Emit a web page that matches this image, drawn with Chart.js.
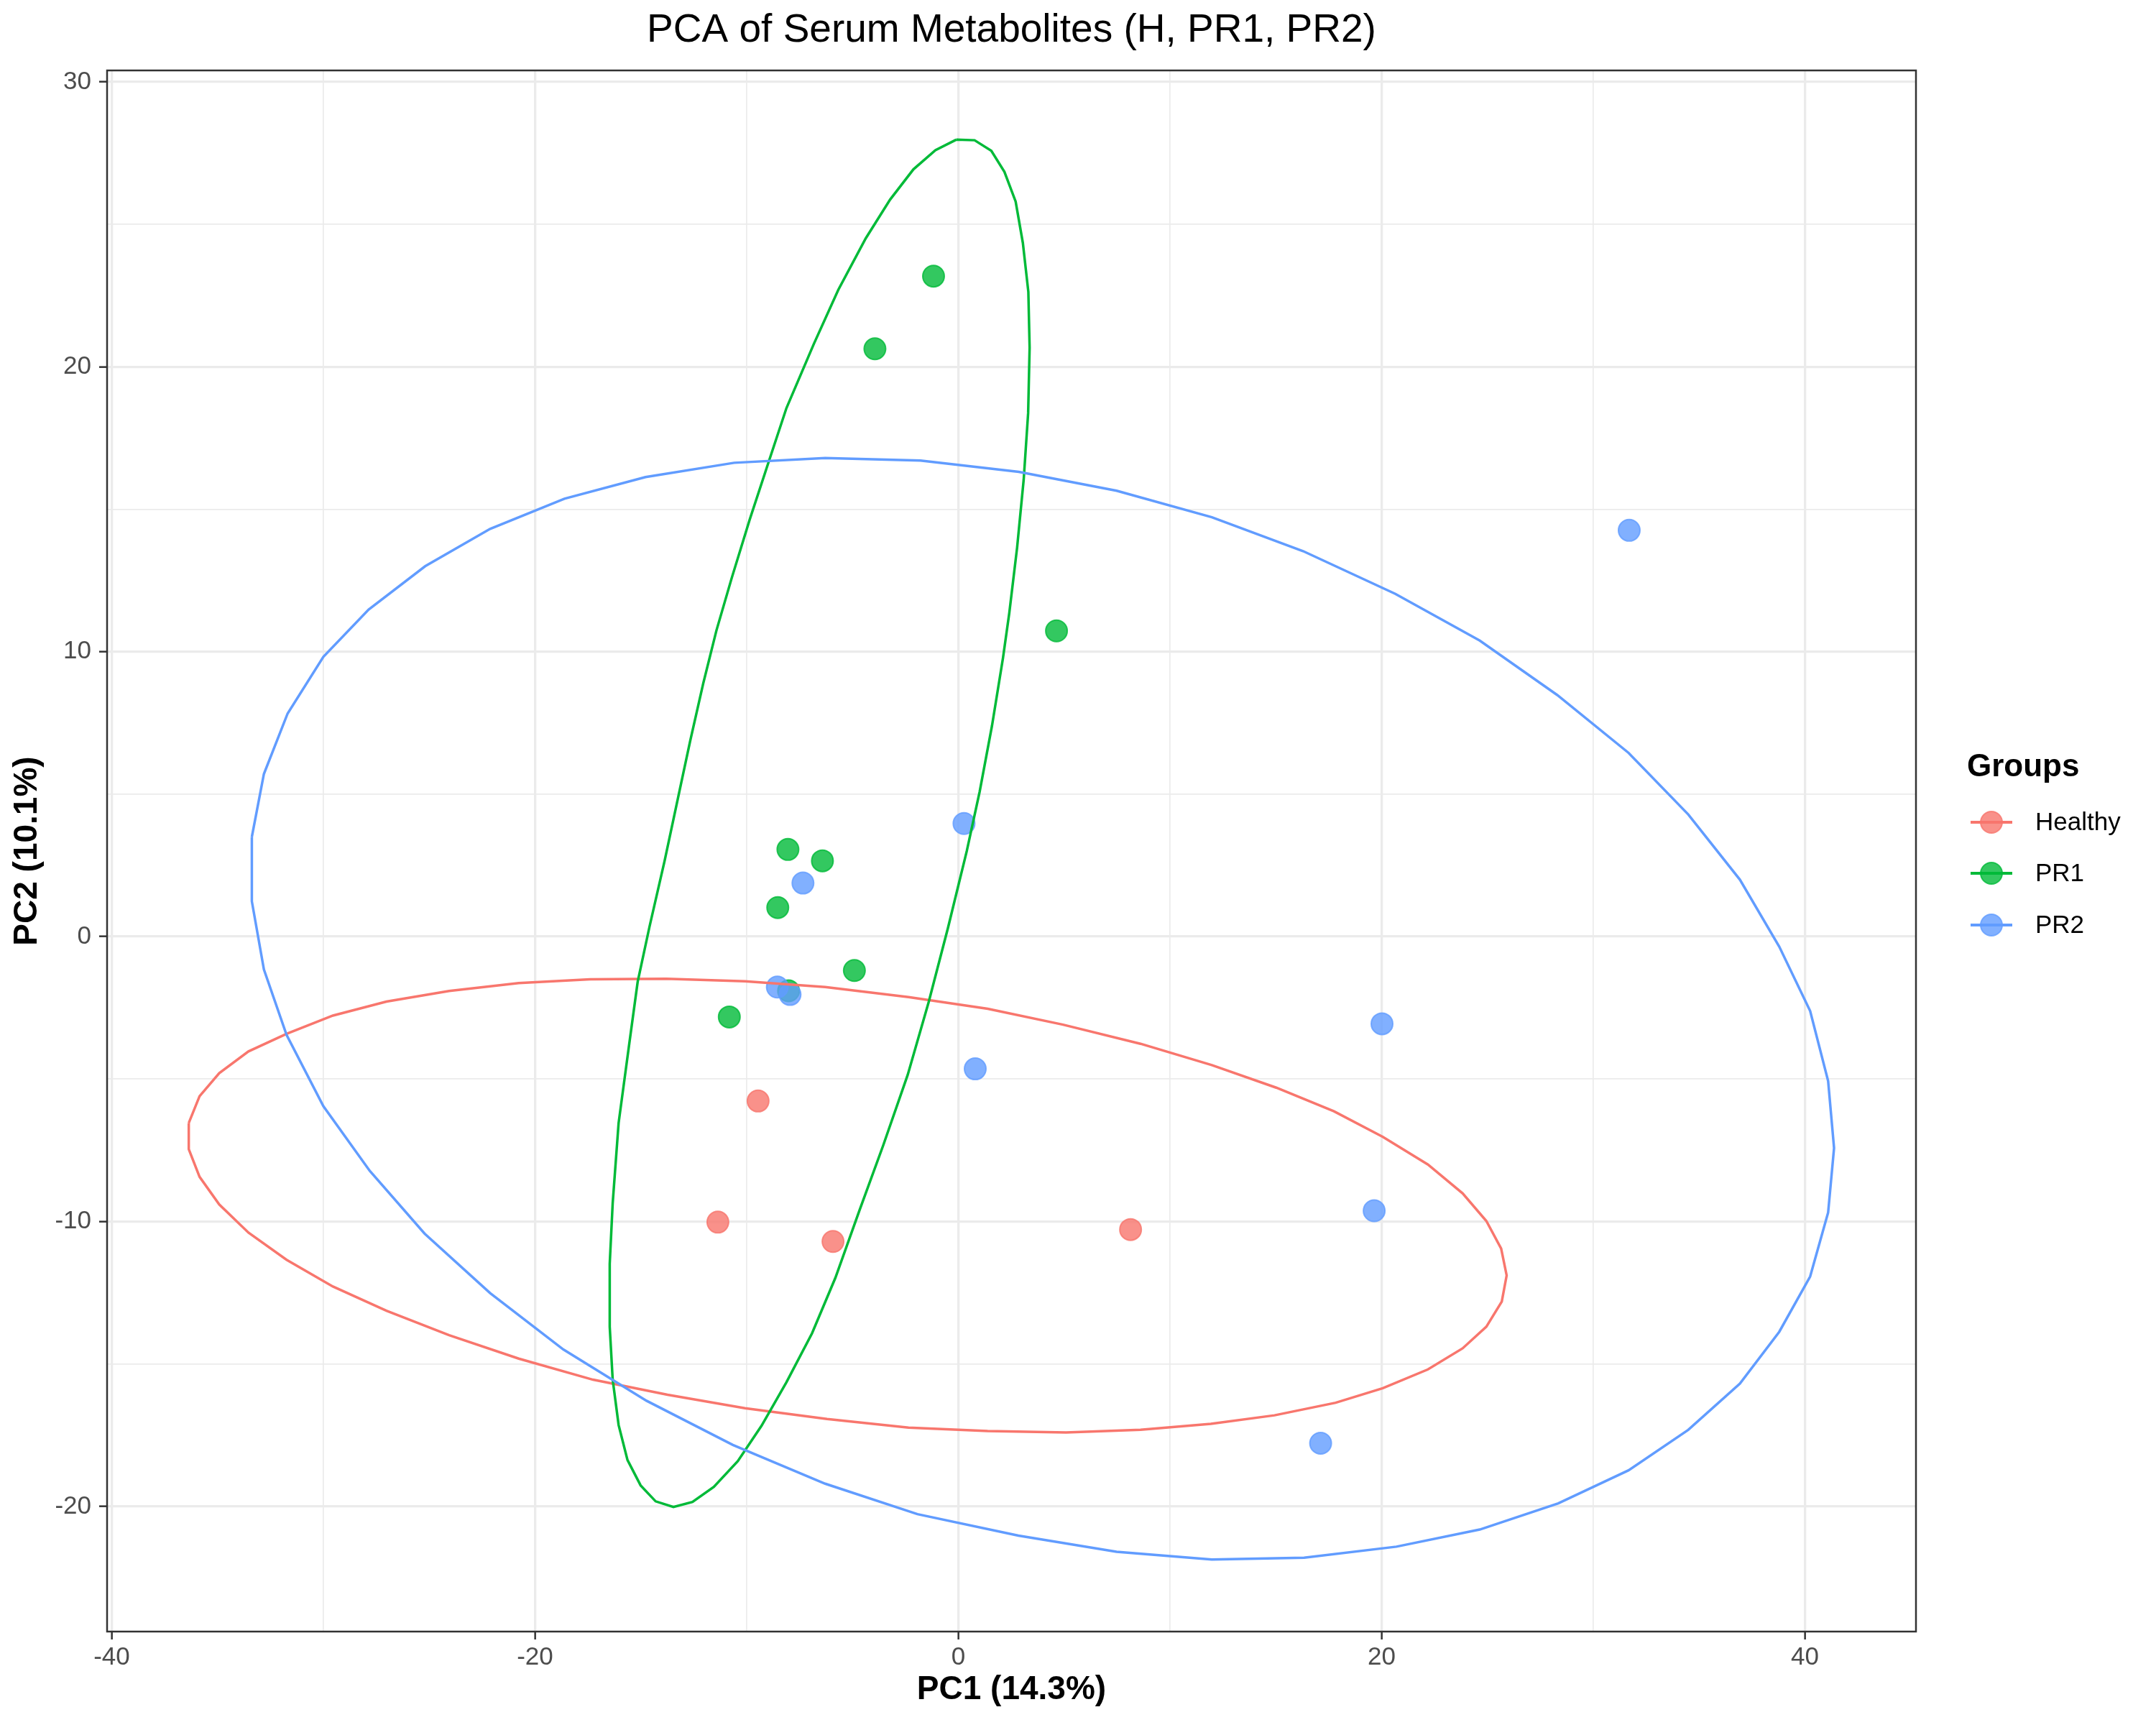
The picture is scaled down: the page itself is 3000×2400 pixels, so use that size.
<!DOCTYPE html>
<html>
<head>
<meta charset="utf-8">
<title>PCA of Serum Metabolites</title>
<script src="https://cdn.jsdelivr.net/npm/chart.js@4.4.1/dist/chart.umd.min.js"></script>
<style>
  html, body { margin: 0; padding: 0; background: #ffffff; }
  canvas { display: block; }
</style>
</head>
<body>
<canvas id="pca" width="3000" height="2400"></canvas>
<script>
// groups + colours (ggplot default hue palette)
const groups = ['Healthy', 'PR1', 'PR2'];
const groupColors = ['#F8766D', '#00BA38', '#619CFF'];
const groupFills = ['rgba(248,118,109,0.8)', 'rgba(0,186,56,0.8)', 'rgba(97,156,255,0.8)'];

// sample scores
const healthyX = [-9.46, -11.36, -5.92, 8.14];
const healthyY = [-5.77, -10.02, -10.70, -10.28];
const pr1X = [-1.17, -3.94, 4.64, -8.05, -6.42, -8.53, -4.91, -8.02, -10.82];
const pr1Y = [23.18, 20.63, 10.73, 3.06, 2.66, 1.02, -1.19, -1.90, -2.82];
const pr2X = [31.70, 0.27, -7.34, -8.55, -7.95, 0.80, 20.02, 19.65, 17.12];
const pr2Y = [14.26, 3.97, 1.88, -1.77, -2.03, -4.64, -3.06, -9.62, -17.78];

// confidence ellipse outlines (traced vertices)
const healthyEllX = [-36.36, -35.85, -34.92, -33.54, -31.74, -29.55, -27.02, -24.06, -20.77, -17.40, -13.80, -10.08, -6.29, -2.35, 1.39, 4.95, 8.61, 11.98, 15.02, 17.75, 20.06, 22.19, 23.83, 24.95, 25.65, 25.91, 25.68, 24.95, 23.83, 22.19, 20.06, 17.83, 14.94, 11.93, 8.61, 5.09, 1.39, -2.35, -6.20, -10.08, -13.74, -17.26, -20.77, -24.06, -27.02, -29.55, -31.74, -33.54, -34.92, -35.85, -36.36, -36.36];
const healthyEllY = [-6.54, -5.60, -4.79, -4.03, -3.41, -2.77, -2.28, -1.91, -1.63, -1.50, -1.48, -1.57, -1.77, -2.12, -2.53, -3.09, -3.76, -4.51, -5.30, -6.13, -7.03, -8.00, -9.01, -9.98, -10.95, -11.89, -12.81, -13.69, -14.45, -15.19, -15.85, -16.36, -16.80, -17.10, -17.31, -17.40, -17.35, -17.23, -16.93, -16.55, -16.08, -15.55, -14.81, -13.99, -13.13, -12.28, -11.34, -10.39, -9.40, -8.43, -7.46, -6.54];

const pr1EllX = [-0.10, 0.77, 1.56, 2.18, 2.71, 3.05, 3.31, 3.37, 3.30, 3.09, 2.78, 2.41, 2.11, 1.59, 1.01, 0.40, -0.49, -1.40, -2.39, -3.55, -4.68, -5.81, -6.91, -8.12, -9.30, -10.42, -11.55, -12.56, -13.46, -14.30, -15.01, -15.63, -16.05, -16.33, -16.47, -16.47, -16.33, -16.05, -15.57, -15.15, -14.59, -13.88, -13.18, -12.67, -12.05, -11.43, -10.70, -9.86, -9.04, -8.12, -6.82, -5.67, -4.37, -3.22, -2.12, -1.08, -0.10];
const pr1EllY = [27.97, 27.95, 27.58, 26.84, 25.80, 24.35, 22.63, 20.67, 18.37, 16.04, 13.66, 11.36, 9.77, 7.39, 5.09, 3.00, 0.30, -2.30, -4.85, -7.33, -9.63, -11.98, -13.92, -15.64, -17.17, -18.41, -19.31, -19.84, -20.02, -19.82, -19.26, -18.37, -17.14, -15.55, -13.69, -11.48, -9.36, -6.54, -3.89, -1.59, 0.35, 2.65, 5.09, 6.86, 8.89, 10.74, 12.60, 14.63, 16.48, 18.55, 20.81, 22.70, 24.51, 25.87, 26.93, 27.60, 27.97];

const pr2EllX = [-33.38, -32.81, -31.69, -30.00, -27.86, -25.19, -22.12, -18.61, -14.78, -10.59, -6.29, -1.79, 2.86, 7.48, 11.98, 16.29, 20.65, 24.64, 28.30, 31.67, 34.49, 36.93, 38.79, 40.25, 41.10, 41.38, 41.10, 40.25, 38.79, 36.93, 34.49, 31.67, 28.35, 24.64, 20.70, 16.34, 11.98, 7.48, 2.84, -1.93, -6.29, -10.65, -14.73, -18.66, -22.12, -25.22, -27.81, -30.00, -31.74, -32.81, -33.38, -33.38];
const pr2EllY = [3.50, 5.71, 7.83, 9.82, 11.48, 13.00, 14.31, 15.37, 16.13, 16.63, 16.80, 16.71, 16.31, 15.65, 14.72, 13.53, 12.03, 10.39, 8.48, 6.45, 4.29, 2.00, -0.35, -2.61, -5.07, -7.42, -9.68, -11.93, -13.87, -15.69, -17.31, -18.73, -19.89, -20.81, -21.41, -21.80, -21.86, -21.59, -21.02, -20.27, -19.20, -17.84, -16.29, -14.49, -12.51, -10.42, -8.22, -5.95, -3.45, -1.15, 1.24, 3.50];

// axis ticks
const xMajor = [-40, -20, 0, 20, 40];
const xMinor = [-30, -10, 10, 30];
const yMajor = [-20, -10, 0, 10, 20, 30];
const yMinor = [-15, -5, 5, 15, 25];

const FONT = '"Liberation Sans", Arial, Helvetica, sans-serif';

function toPoints(xs, ys) {
    return xs.map((x, i) => ({ x: x, y: ys[i] }));
}

function pointSet(i, xs, ys, order) {
    return {
        label: groups[i],
        data: toPoints(xs, ys),
        backgroundColor: groupFills[i],
        borderColor: groupFills[i],
        borderWidth: 2,
        pointRadius: 15,
        pointHoverRadius: 15,
        showLine: false,
        order: order
    };
}

function ellipseSet(i, xs, ys, order) {
    return {
        label: groups[i] + ' ellipse',
        data: toPoints(xs, ys),
        borderColor: groupColors[i],
        borderWidth: 3.5,
        pointRadius: 0,
        showLine: true,
        fill: false,
        tension: 0,
        order: order
    };
}

function gridFor(major) {
    return {
        color: '#EBEBEB',
        lineWidth: ctx => (ctx.tick && major.includes(ctx.tick.value)) ? 3.3 : 1.7,
        tickColor: ctx => (ctx.tick && major.includes(ctx.tick.value)) ? '#333333' : 'rgba(0,0,0,0)',
        tickWidth: 2.5,
        tickLength: 11,
        drawTicks: true
    };
}

// panel border drawn over the data like theme_bw
const panelBorder = {
    id: 'panelBorder',
    afterDatasetsDraw(chart) {
        const { ctx, chartArea: a } = chart;
        ctx.save();
        ctx.strokeStyle = '#333333';
        ctx.lineWidth = 2.5;
        ctx.strokeRect(a.left, a.top, a.right - a.left, a.bottom - a.top);
        ctx.restore();
    }
};

// ggplot style legend key: line through a point
const groupLegend = {
    id: 'groupLegend',
    afterDraw(chart) {
        const ctx = chart.ctx;
        ctx.save();
        ctx.fillStyle = '#000000';
        ctx.textBaseline = 'middle';
        ctx.textAlign = 'left';
        ctx.font = 'bold 44px ' + FONT;
        ctx.fillText('Groups', 2737, 1068);
        const rows = [1144, 1215, 1287];
        groups.forEach((g, i) => {
            const y = rows[i];
            ctx.strokeStyle = groupColors[i];
            ctx.lineWidth = 4;
            ctx.beginPath();
            ctx.moveTo(2742, y);
            ctx.lineTo(2800, y);
            ctx.stroke();
            ctx.beginPath();
            ctx.arc(2771, y, 15, 0, Math.PI * 2);
            ctx.fillStyle = groupFills[i];
            ctx.fill();
            ctx.lineWidth = 2;
            ctx.strokeStyle = groupFills[i];
            ctx.stroke();
            ctx.fillStyle = '#000000';
            ctx.font = '35px ' + FONT;
            ctx.fillText(g, 2832, y + 1);
        });
        ctx.restore();
    }
};

new Chart(document.getElementById('pca'), {
    type: 'scatter',
    data: {
        datasets: [
            ellipseSet(0, healthyEllX, healthyEllY, 2),
            ellipseSet(1, pr1EllX, pr1EllY, 1),
            ellipseSet(2, pr2EllX, pr2EllY, 0),
            pointSet(0, healthyX, healthyY, 5),
            pointSet(1, pr1X, pr1Y, 4),
            pointSet(2, pr2X, pr2Y, 3)
        ]
    },
    options: {
        responsive: false,
        devicePixelRatio: 1,
        animation: false,
        layout: { padding: { left: 0, right: 334, top: 0, bottom: 0 } },
        plugins: {
            legend: { display: false },
            tooltip: { enabled: false },
            title: {
                display: true,
                text: 'PCA of Serum Metabolites (H, PR1, PR2)',
                color: '#000000',
                fullSize: false,
                font: { family: FONT, size: 55, weight: 'normal' },
                padding: { top: 10, bottom: 22 }
            }
        },
        scales: {
            x: {
                type: 'linear',
                min: -40.22,
                max: 45.25,
                afterBuildTicks: s => { s.ticks = xMajor.concat(xMinor).sort((a, b) => a - b).map(v => ({ value: v })); },
                afterFit: s => { s.height = 130; },
                ticks: {
                    autoSkip: false,
                    maxRotation: 0,
                    padding: 4,
                    color: '#4D4D4D',
                    font: { family: FONT, size: 35 },
                    callback: v => xMajor.includes(v) ? String(v) : ''
                },
                grid: gridFor(xMajor),
                border: { display: false },
                title: {
                    display: true,
                    text: 'PC1 (14.3%)',
                    color: '#000000',
                    font: { family: FONT, size: 46, weight: 'bold' },
                    padding: { top: 0, bottom: 21 }
                }
            },
            y: {
                type: 'linear',
                min: -24.39,
                max: 30.40,
                afterBuildTicks: s => { s.ticks = yMajor.concat(yMinor).sort((a, b) => a - b).map(v => ({ value: v })); },
                afterFit: s => { s.width = 149; },
                ticks: {
                    autoSkip: false,
                    padding: 11,
                    color: '#4D4D4D',
                    font: { family: FONT, size: 35 },
                    callback: v => yMajor.includes(v) ? String(v) : ''
                },
                grid: gridFor(yMajor),
                border: { display: false },
                title: {
                    display: true,
                    text: 'PC2 (10.1%)',
                    color: '#000000',
                    font: { family: FONT, size: 46, weight: 'bold' },
                    padding: { top: 11, bottom: 0 }
                }
            }
        }
    },
    plugins: [panelBorder, groupLegend]
});
</script>
</body>
</html>
